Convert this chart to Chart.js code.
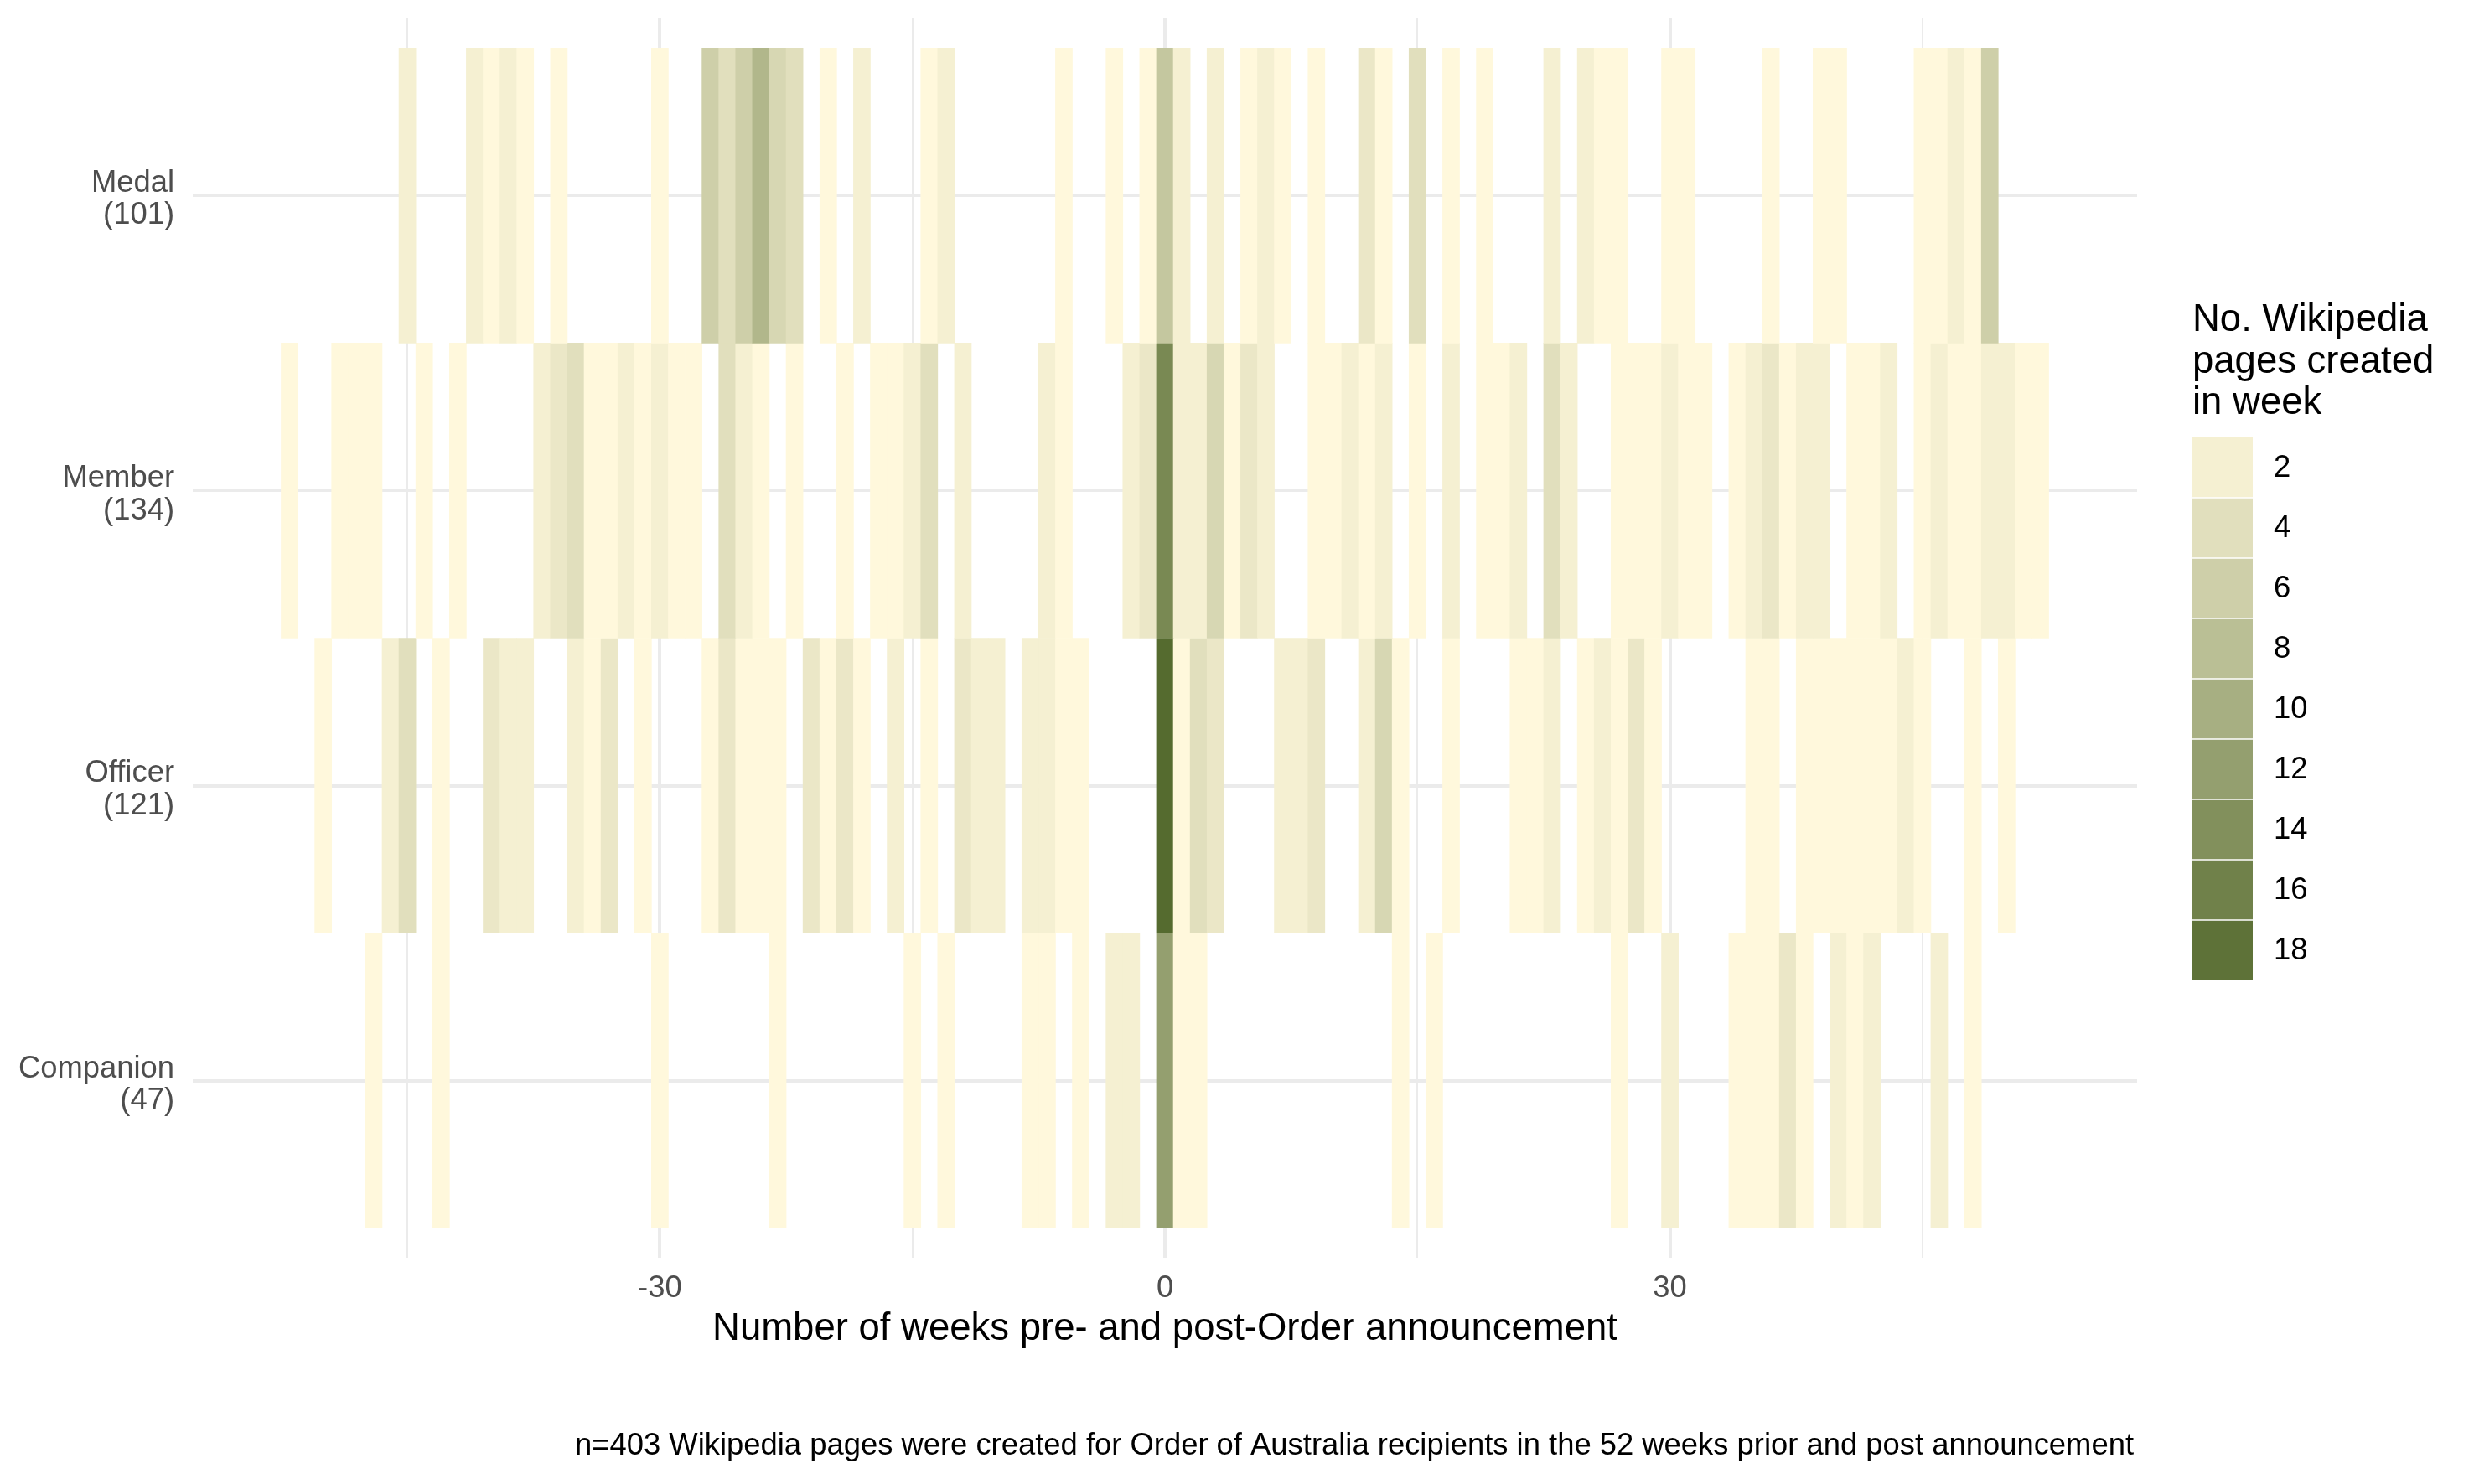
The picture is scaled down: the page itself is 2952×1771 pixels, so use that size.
<!DOCTYPE html>
<html>
<head>
<meta charset="utf-8">
<script src="https://cdn.jsdelivr.net/npm/chart.js@4.4.1/dist/chart.umd.min.js"></script>
<style>
html,body{margin:0;padding:0;background:#ffffff;overflow:hidden}
canvas{display:block}
</style>
</head>
<body>
<canvas id="c" width="2952" height="1771"></canvas>
<script>
// ---------------- data ----------------
const rowNames = ['Companion', 'Officer', 'Member', 'Medal'];

const companionWeeks  = [-47,-43,-30,-23,-15,-13,-8,-7,-5,-3,-2,0,1,2,14,16,27,30,34,35,36,37,38,40,41,42,46,48];
const companionCounts = [1,1,1,1,1,1,1,1,1,2,2,12,1,1,1,1,1,2,1,1,1,3,1,2,1,2,2,1];

const officerWeeks  = [-50,-46,-45,-43,-40,-39,-38,-35,-34,-33,-31,-27,-26,-25,-24,-23,-21,-20,-19,-18,-16,-14,-12,-11,-10,-8,-7,-6,-5,0,1,2,3,7,8,9,12,13,14,17,21,22,23,25,26,27,28,29,35,36,38,39,40,41,42,43,44,45,48,50];
const officerCounts = [1,2,4,1,3,2,2,2,1,3,1,1,3,1,1,1,3,1,3,1,2,1,3,2,2,2,2,1,1,19,1,4,3,2,2,3,2,5,1,1,1,1,2,1,2,1,3,1,1,1,1,1,1,1,1,1,2,1,1,1];

const memberWeeks  = [-52,-49,-48,-47,-44,-42,-37,-36,-35,-34,-33,-32,-31,-30,-29,-28,-26,-25,-24,-22,-19,-17,-16,-15,-14,-12,-7,-6,-2,-1,0,1,2,3,4,5,6,9,10,11,12,13,15,17,19,20,21,23,24,27,28,29,30,31,32,34,35,36,37,38,39,41,42,43,45,46,47,48,49,50,51,52];
const memberCounts = [1,1,1,1,1,1,2,3,4,1,1,2,1,2,1,1,4,2,1,1,1,1,1,2,4,2,2,1,2,3,15,2,2,5,1,3,2,1,1,2,1,2,1,2,1,1,2,4,2,1,1,1,2,1,1,1,2,3,1,2,2,1,1,2,1,2,1,1,2,2,1,1];

const medalWeeks  = [-45,-41,-40,-39,-38,-36,-30,-27,-26,-25,-24,-23,-22,-20,-18,-14,-13,-6,-3,-1,0,1,3,5,6,7,9,12,13,15,17,19,23,25,26,27,30,31,36,39,40,45,46,47,48,49];
const medalCounts = [2,2,1,2,1,1,1,6,4,6,9,5,4,1,2,1,2,1,1,1,7,2,2,1,2,1,1,3,1,4,1,1,2,2,1,1,1,1,1,1,1,1,1,2,1,6];

const rowWeeks  = [companionWeeks, officerWeeks, memberWeeks, medalWeeks];
const rowCounts = [companionCounts, officerCounts, memberCounts, medalCounts];

const xTickValues  = [-45, -30, -15, 0, 15, 30, 45];
const xLabelValues = [-30, 0, 30];
const legendBreaks = [2, 4, 6, 8, 10, 12, 14, 16, 18];
const legendTitle  = ['No. Wikipedia', 'pages created', 'in week'];
const xTitle = 'Number of weeks pre- and post-Order announcement';

// ---------------- colour scale (Lab interpolation) ----------------
const lowRGB = [255, 248, 220];   // cornsilk
const highRGB = [85, 107, 47];    // darkolivegreen
function toLin(c){ c /= 255; return c <= 0.04045 ? c/12.92 : Math.pow((c+0.055)/1.055, 2.4); }
function fromLin(c){ const v = c <= 0.0031308 ? 12.92*c : 1.055*Math.pow(c, 1/2.4) - 0.055; return Math.round(Math.max(0, Math.min(1, v))*255); }
const Xn = 0.95047, Yn = 1.0, Zn = 1.08883;
function fLab(t){ return t > 0.008856 ? Math.cbrt(t) : 7.787*t + 16/116; }
function fInv(t){ return t*t*t > 0.008856 ? t*t*t : (t - 16/116)/7.787; }
function rgb2lab(rgb){
  const r = toLin(rgb[0]), g = toLin(rgb[1]), b = toLin(rgb[2]);
  const X = 0.4124564*r + 0.3575761*g + 0.1804375*b;
  const Y = 0.2126729*r + 0.7151522*g + 0.0721750*b;
  const Z = 0.0193339*r + 0.1191920*g + 0.9503041*b;
  const fx = fLab(X/Xn), fy = fLab(Y/Yn), fz = fLab(Z/Zn);
  return [116*fy - 16, 500*(fx - fy), 200*(fy - fz)];
}
function lab2rgb(lab){
  const fy = (lab[0] + 16)/116, fx = fy + lab[1]/500, fz = fy - lab[2]/200;
  const X = Xn*fInv(fx), Y = Yn*fInv(fy), Z = Zn*fInv(fz);
  const r =  3.2404542*X - 1.5371385*Y - 0.4985314*Z;
  const g = -0.9692660*X + 1.8760108*Y + 0.0415560*Z;
  const b =  0.0556434*X - 0.2040259*Y + 1.0572252*Z;
  return [fromLin(r), fromLin(g), fromLin(b)];
}
const lowLab = rgb2lab(lowRGB), highLab = rgb2lab(highRGB);
const allCounts = rowCounts.flat();
const vMin = Math.min(...allCounts), vMax = Math.max(...allCounts);
function colorFor(v){
  const t = Math.max(0, Math.min(1, (v - vMin)/(vMax - vMin)));
  const lab = [0,1,2].map(i => lowLab[i] + (highLab[i] - lowLab[i])*t);
  const c = lab2rgb(lab);
  return `rgb(${c[0]},${c[1]},${c[2]})`;
}

const rowTotals = rowCounts.map(a => a.reduce((s, v) => s + v, 0));
const grandTotal = rowTotals.reduce((s, v) => s + v, 0);
const caption = `n=${grandTotal} Wikipedia pages were created for Order of Australia recipients in the 52 weeks prior and post announcement`;

// ---------------- tiles ----------------
const tiles = [];
rowWeeks.forEach((weeks, r) => {
  weeks.forEach((w, i) => tiles.push({ x: w, y: [r - 0.5, r + 0.5], v: rowCounts[r][i] }));
});

const FONT = '"Liberation Sans", Arial, Helvetica, sans-serif';

const extrasPlugin = {
  id: 'extras',
  afterDraw(chart) {
    const ctx = chart.ctx;
    const area = chart.chartArea;
    ctx.save();
    // legend title
    const lx = area.right + 66;
    ctx.fillStyle = '#000000';
    ctx.textAlign = 'left';
    ctx.textBaseline = 'alphabetic';
    ctx.font = `45.5px ${FONT}`;
    legendTitle.forEach((t, i) => ctx.fillText(t, lx, 395 + i*49.5));
    // legend keys
    const ks = 72, ky = 522;
    legendBreaks.forEach((b, i) => {
      ctx.fillStyle = colorFor(b);
      ctx.fillRect(lx, ky + i*ks, ks, ks);
    });
    ctx.strokeStyle = '#ffffff';
    ctx.lineWidth = 1.5;
    for (let i = 1; i < legendBreaks.length; i++) {
      ctx.beginPath();
      ctx.moveTo(lx, ky + i*ks);
      ctx.lineTo(lx + ks, ky + i*ks);
      ctx.stroke();
    }
    ctx.fillStyle = '#000000';
    ctx.font = `36.4px ${FONT}`;
    ctx.textBaseline = 'middle';
    legendBreaks.forEach((b, i) => ctx.fillText(String(b), lx + ks + 25, ky + i*ks + ks/2 + 1));
    // caption
    ctx.textAlign = 'right';
    ctx.fillText(caption, area.right - 4, 1726);
    ctx.restore();
  }
};

new Chart(document.getElementById('c'), {
  type: 'bar',
  data: {
    datasets: [{
      data: tiles,
      backgroundColor: ctx => ctx.raw ? colorFor(ctx.raw.v) : '#fff',
      borderWidth: 0,
      barPercentage: 1,
      categoryPercentage: 1,
      grouped: false
    }]
  },
  options: {
    responsive: false,
    animation: false,
    devicePixelRatio: 1,
    layout: { padding: { top: 22, right: 402, left: 0, bottom: 0 } },
    plugins: {
      legend: { display: false },
      tooltip: { enabled: false },
      title: { display: false }
    },
    scales: {
      x: {
        type: 'linear',
        min: -57.75,
        max: 57.75,
        offset: false,
        afterBuildTicks: s => { s.ticks = xTickValues.map(v => ({ value: v })); },
        afterFit: s => { s.height = 270; s.paddingLeft = 0; s.paddingRight = 0; },
        ticks: {
          autoSkip: false,
          maxRotation: 0,
          padding: 15,
          color: '#4D4D4D',
          font: { family: FONT, size: 36.4 },
          callback: v => xLabelValues.includes(v) ? String(v) : ''
        },
        grid: {
          offset: false,
          drawTicks: false,
          color: '#EBEBEB',
          lineWidth: c => (c.tick && xLabelValues.includes(c.tick.value)) ? 4 : 2
        },
        border: { display: false },
        title: {
          display: true,
          text: xTitle,
          color: '#000000',
          font: { family: FONT, size: 45.5 },
          padding: { top: 0, bottom: 157 }
        }
      },
      y: {
        type: 'linear',
        min: -0.6,
        max: 3.6,
        afterBuildTicks: s => { s.ticks = rowNames.map((_, i) => ({ value: i })); },
        afterFit: s => { s.width = 230; s.paddingTop = 0; s.paddingBottom = 0; },
        ticks: {
          padding: 22,
          labelOffset: 5,
          color: '#4D4D4D',
          font: { family: FONT, size: 36.4, lineHeight: 1.05 },
          callback: v => [rowNames[v], `(${rowTotals[v]})`]
        },
        grid: {
          drawTicks: false,
          color: '#EBEBEB',
          lineWidth: 4
        },
        border: { display: false }
      }
    }
  },
  plugins: [extrasPlugin]
});
</script>
</body>
</html>
